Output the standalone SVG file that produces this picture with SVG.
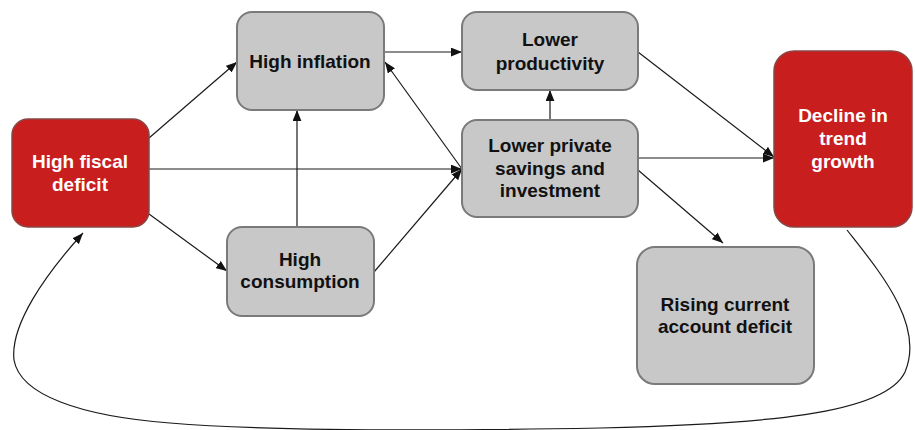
<svg xmlns="http://www.w3.org/2000/svg" width="915" height="430" viewBox="0 0 915 430">
  <defs>
    <marker id="arrow" viewBox="0 0 10 8" refX="10" refY="4" markerWidth="11" markerHeight="9" markerUnits="userSpaceOnUse" orient="auto">
      <path d="M0,0 L10,4 L0,8 Z" fill="#111"/>
    </marker>
    <style>
      .box { fill: #C8C8C8; stroke: #7A7A7A; stroke-width: 2; }
      .hot { fill: #C81E1E; stroke: #8A4646; stroke-width: 1.5; }
      .lbl { font-family: "Liberation Sans", Arial, sans-serif; font-weight: bold; font-size: 19px; text-anchor: middle; fill: #111; }
      .lbl-w { fill: #FFFFFF; }
      .edge { fill: none; stroke: #1A1A1A; stroke-width: 1.2; marker-end: url(#arrow); }
    </style>
  </defs>
  <rect width="915" height="430" fill="#FFFFFF"/>

  <g id="connectors">
    <!-- from High fiscal deficit -->
    <line class="edge" x1="149" y1="138" x2="237" y2="62"/>
    <line class="edge" x1="149" y1="169" x2="462" y2="169"/>
    <line class="edge" x1="149" y1="214" x2="227" y2="271"/>
    <!-- from High consumption -->
    <line class="edge" x1="297" y1="227" x2="297" y2="110"/>
    <line class="edge" x1="374" y1="272" x2="462" y2="169"/>
    <!-- from High inflation -->
    <line class="edge" x1="384" y1="52" x2="462" y2="52"/>
    <!-- from Lower private savings and investment -->
    <line class="edge" x1="462" y1="169" x2="385" y2="62"/>
    <line class="edge" x1="550" y1="120" x2="550" y2="90"/>
    <line class="edge" x1="638" y1="158" x2="774" y2="158"/>
    <line class="edge" x1="638" y1="170" x2="723" y2="243"/>
    <!-- from Lower productivity -->
    <line class="edge" x1="638" y1="52" x2="774" y2="157"/>
    <!-- feedback loop back to High fiscal deficit -->
    <path class="edge" d="M847,230 C880,272 925,325 905,372 C885,415 760,424 600,428 C440,431 280,432 170,423 C80,416 20,395 14,360 C10,325 45,275 83,233"/>
  </g>

  <g id="high-fiscal-deficit">
    <rect class="hot" x="12" y="119" width="137" height="108" rx="16"/>
    <text class="lbl lbl-w" x="80" y="168">High fiscal</text>
    <text class="lbl lbl-w" x="80" y="191">deficit</text>
  </g>

  <g id="high-inflation">
    <rect class="box" x="237" y="12" width="147" height="98" rx="15"/>
    <text class="lbl" x="310" y="68">High inflation</text>
  </g>

  <g id="high-consumption">
    <rect class="box" x="227" y="227" width="147" height="89" rx="15"/>
    <text class="lbl" x="300" y="266">High</text>
    <text class="lbl" x="300" y="288">consumption</text>
  </g>

  <g id="lower-productivity">
    <rect class="box" x="462" y="12" width="176" height="78" rx="15"/>
    <text class="lbl" x="550" y="46">Lower</text>
    <text class="lbl" x="550" y="70">productivity</text>
  </g>

  <g id="lower-private-savings">
    <rect class="box" x="462" y="120" width="176" height="97" rx="15"/>
    <text class="lbl" x="550" y="152">Lower private</text>
    <text class="lbl" x="550" y="175">savings and</text>
    <text class="lbl" x="550" y="197">investment</text>
  </g>

  <g id="decline-in-trend-growth">
    <rect class="hot" x="774" y="51" width="138" height="176" rx="20"/>
    <text class="lbl lbl-w" x="843" y="122">Decline in</text>
    <text class="lbl lbl-w" x="843" y="145">trend</text>
    <text class="lbl lbl-w" x="843" y="168">growth</text>
  </g>

  <g id="rising-current-account-deficit">
    <rect class="box" x="637" y="247" width="177" height="137" rx="18"/>
    <text class="lbl" x="725" y="311">Rising current</text>
    <text class="lbl" x="725" y="333">account deficit</text>
  </g>
</svg>
